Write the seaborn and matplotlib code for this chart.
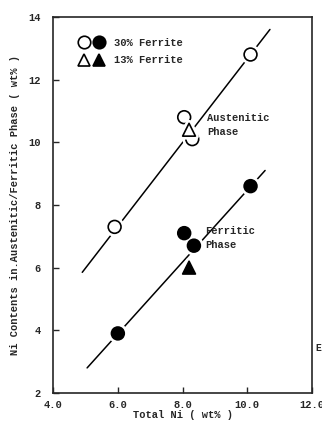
import matplotlib
matplotlib.use("Agg")
import matplotlib.pyplot as plt
import matplotlib.patheffects as pe
import seaborn as sns
from matplotlib.lines import Line2D
from matplotlib.legend_handler import HandlerTuple

# Data
aus30_x = [5.9, 8.05, 8.3, 10.1]
aus30_y = [7.3, 10.8, 10.1, 12.8]
aus13_x = [8.2]
aus13_y = [10.4]
fer30_x = [6.0, 8.05, 8.35, 10.1]
fer30_y = [3.9, 7.1, 6.7, 8.6]
fer13_x = [8.2]
fer13_y = [6.0]
aus_fit_x = [4.9, 10.7]
aus_fit_y = [5.85, 13.6]
fer_fit_x = [5.05, 10.55]
fer_fit_y = [2.8, 9.1]
x_ticks = [4, 6, 8, 10, 12]
x_ticklabels = ["4.0", "6.0", "8.0", "10.0", "12.0"]
y_ticks = [2, 4, 6, 8, 10, 12, 14]
legend_labels = ["30% Ferrite", "13% Ferrite"]

sns.set_style("ticks")
plt.rcParams['font.family'] = ['Liberation Mono', 'DejaVu Sans']
plt.rcParams['font.weight'] = 'bold'

fig = plt.figure(figsize=(3.22, 4.23), dpi=100)
ax = fig.add_axes([0.165, 0.071, 0.804, 0.889])

sns.lineplot(x=aus_fit_x, y=aus_fit_y, ax=ax, color='black', lw=1.1, zorder=1)
sns.lineplot(x=fer_fit_x, y=fer_fit_y, ax=ax, color='black', lw=1.1, zorder=1)

halo = [pe.Stroke(linewidth=5, foreground='white'), pe.Normal()]
kw = dict(ax=ax, s=85, linewidth=1.2, edgecolor='black', zorder=3)
for xs, ys, m, fc in [(aus30_x, aus30_y, 'o', 'white'),
                      (aus13_x, aus13_y, '^', 'white'),
                      (fer30_x, fer30_y, 'o', 'black'),
                      (fer13_x, fer13_y, '^', 'black')]:
    coll = sns.scatterplot(x=xs, y=ys, marker=m, facecolor=fc, **kw).collections[-1]
    coll.set_path_effects(halo)

ax.set_xlim(4, 12)
ax.set_ylim(2, 14)
ax.set_xticks(x_ticks)
ax.set_xticklabels(x_ticklabels)
ax.set_yticks(y_ticks)
ax.tick_params(direction='in', length=4, width=1, labelsize=7.5)
ax.tick_params(axis='x', pad=5)
ax.tick_params(axis='y', pad=9)
for s in ax.spines.values():
    s.set_linewidth(1.2)

ax.set_xlabel("Total Ni ( wt% )", fontsize=7.5, fontweight='bold', labelpad=0)
ax.set_ylabel("Ni Contents in.Austenitic/Ferritic Phase ( wt% )", fontsize=7.5,
              fontweight='bold', labelpad=6)

ax.text(8.75, 10.55, "Austenitic\nPhase", fontsize=7.5, fontweight='bold',
        va='center', ha='left', linespacing=1.5)
ax.text(8.7, 6.95, "Ferritic\nPhase", fontsize=7.5, fontweight='bold',
        va='center', ha='left', linespacing=1.5)

oc = Line2D([], [], marker='o', ls='none', mfc='white', mec='black', ms=9, mew=1.2)
fc = Line2D([], [], marker='o', ls='none', mfc='black', mec='black', ms=9, mew=1.2)
ot = Line2D([], [], marker='^', ls='none', mfc='white', mec='black', ms=9, mew=1.2)
ft = Line2D([], [], marker='^', ls='none', mfc='black', mec='black', ms=9, mew=1.2)
ax.legend([(oc, fc), (ot, ft)], legend_labels,
          handler_map={tuple: HandlerTuple(ndivide=None, pad=0.3)},
          loc='upper left', bbox_to_anchor=(0.06, 0.97), frameon=False,
          fontsize=7.5, handlelength=2.6, handletextpad=0.9, labelspacing=0.75)

fig.text(0.987, 0.17, "E", fontsize=7, fontweight='bold', ha='center')

fig.savefig("out.png", dpi=100)
